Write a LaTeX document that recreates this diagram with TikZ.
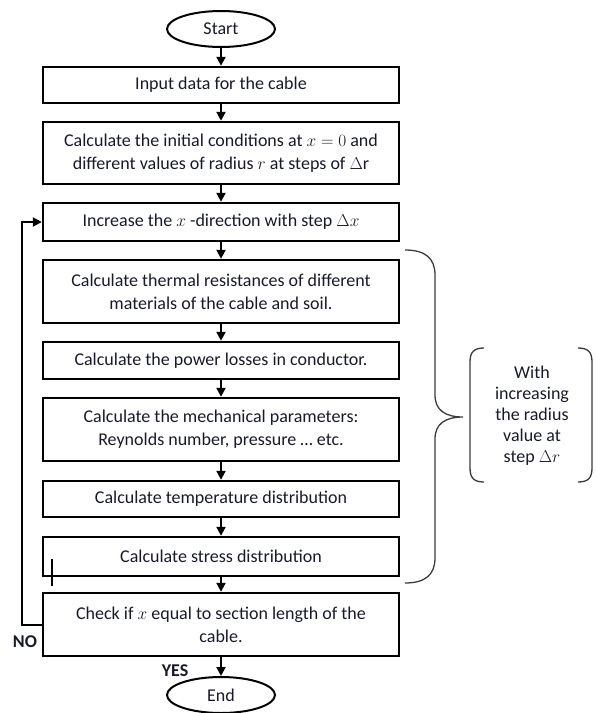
\documentclass[tikz,border=0pt]{standalone}
\usepackage{fontspec}
\setmainfont{Carlito}
\usetikzlibrary{shapes.geometric,arrows.meta}
\definecolor{txt}{RGB}{25,25,45}
\definecolor{brc}{RGB}{60,60,60}
\begin{document}
\begin{tikzpicture}[x=1pt,y=-1pt,
  every node/.style={font=\fontsize{18}{23}\selectfont, text=txt},
  procbox/.style={draw, line width=2.4pt, minimum width=356pt, align=center, inner sep=0pt},
  term/.style={draw, ellipse, line width=2pt, minimum width=108pt, minimum height=36pt, inner sep=0pt},
  flow/.style={line width=2pt, -{Triangle[width=9pt,length=9pt]}},
  lbl/.style={font=\fontsize{18}{23}\selectfont\bfseries},
  bracestyle/.style={draw=brc, line width=1.3pt}]
\useasboundingbox (0,0) rectangle (596,713);

\node[term] (start) at (221,29) {Start};
\node[procbox, minimum height=36pt] (input) at (221,85) {Input data for the cable};
\node[procbox, minimum height=62pt] (init) at (221,153) {Calculate the initial conditions at $x = 0$ and\\different values of radius $r$ at steps of $\Delta\mathrm{r}$};
\node[procbox, minimum height=38pt] (incr) at (221,222) {Increase the $x$ -direction with step $\Delta x$};
\node[procbox, minimum height=63pt] (therm) at (221,291.5) {Calculate thermal resistances of different\\materials of the cable and soil.};
\node[procbox, minimum height=37pt] (power) at (221,360.5) {Calculate the power losses in conductor.};
\node[procbox, minimum height=63pt] (mech) at (221,429.5) {Calculate the mechanical parameters:\\Reynolds number, pressure \dots\ etc.};
\node[procbox, minimum height=36pt] (temp) at (221,499) {Calculate temperature distribution};
\node[procbox, minimum height=39pt] (stress) at (221,556.5) {Calculate stress distribution};
\node[procbox, minimum height=63pt] (check) at (221,624.5) {Check if $x$ equal to section length of the\\cable.};
\node[term] (end) at (221,695) {End};

\draw[flow] (start.south) -- (input.north);
\draw[flow] (input.south) -- (init.north);
\draw[flow] (init.south) -- (incr.north);
\draw[flow] (incr.south) -- (therm.north);
\draw[flow] (therm.south) -- (power.north);
\draw[flow] (power.south) -- (mech.north);
\draw[flow] (mech.south) -- (temp.north);
\draw[flow] (temp.south) -- (stress.north);
\draw[flow] (stress.south) -- (check.north);
\draw[flow] (check.south) -- (end.north);

\coordinate (loopc) at (22,624.5);
\draw[flow] (check.west) -- (loopc) |- (incr.west);

\node[lbl] (no) at (25,642) {NO};
\node[lbl] (yes) at (175,671) {YES};

% cursor mark
\draw[line width=2.4pt] (52,559) -- (52,586);

% big brace
\draw[bracestyle] (405,250) .. controls (425,250) and (435,258) .. (435,275) -- (435,395)
  .. controls (435,410) and (445,417) .. (463,417)
  .. controls (445,417) and (435,424) .. (435,439) -- (435,558)
  .. controls (435,575) and (425,583) .. (405,583);

% bracket pair
\draw[bracestyle] (484,348) .. controls (474,348) and (470,352) .. (470,362) -- (470,468)
  .. controls (470,478) and (474,482) .. (484,482);
\draw[bracestyle] (578,348) .. controls (588,348) and (592,352) .. (592,362) -- (592,468)
  .. controls (592,478) and (588,482) .. (578,482);
\node[align=center, font=\fontsize{18}{21}\selectfont] (note) at (532,416) {With\\increasing\\the radius\\value at\\step $\Delta r$};
\end{tikzpicture}
\end{document}
